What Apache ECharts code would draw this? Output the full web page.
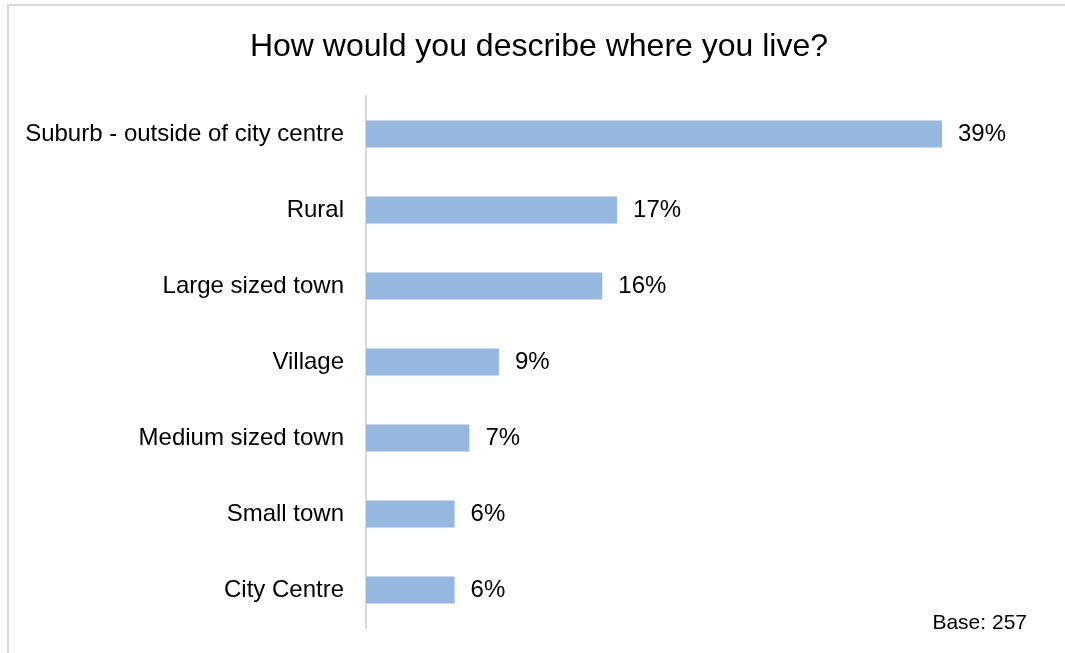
<!DOCTYPE html>
<html>
<head>
<meta charset="utf-8">
<script src="https://cdn.jsdelivr.net/npm/echarts@6/dist/echarts.min.js"></script>
<style>
  html, body { margin: 0; padding: 0; background: #fff; }
  #chart { width: 1065px; height: 653px; }
</style>
</head>
<body>
<div id="chart"></div>
<script>
// Where respondents live (share of base, %)
const categories = [
  'Suburb - outside of city centre',
  'Rural',
  'Large sized town',
  'Village',
  'Medium sized town',
  'Small town',
  'City Centre'
];
const shares = [39, 17, 16, 9, 7, 6, 6];
const titleText = 'How would you describe where you live?';
const baseText = 'Base: 257';

const FONT = '"Liberation Sans", Arial, sans-serif';

const chart = echarts.init(document.getElementById('chart'), null, { renderer: 'canvas' });

chart.setOption({
  backgroundColor: '#ffffff',
  animation: false,
  title: {
    text: titleText,
    left: 534,
    textAlign: 'center',
    top: 26,
    textStyle: { fontFamily: FONT, fontSize: 32, fontWeight: 'normal', color: '#000' }
  },
  graphic: [
    {
      type: 'rect',
      shape: { x: 8, y: 5, width: 1070, height: 660 },
      style: { fill: 'none', stroke: '#d9d9d9', lineWidth: 2 },
      silent: true
    },
    {
      type: 'text',
      right: 38,
      top: 613,
      style: { text: baseText, fontFamily: FONT, fontSize: 21, fill: '#000' }
    }
  ],
  grid: { left: 366, top: 96, width: 664.6, height: 532, containLabel: false },
  xAxis: {
    type: 'value',
    min: 0,
    max: 45,
    show: false
  },
  yAxis: {
    type: 'category',
    data: categories,
    inverse: true,
    axisLine: { show: true, lineStyle: { color: '#d9d9d9', width: 2 } },
    axisTick: { show: false },
    axisLabel: { margin: 22, fontFamily: FONT, fontSize: 24, color: '#000' }
  },
  series: [{
    type: 'bar',
    data: shares,
    barWidth: 27,
    itemStyle: { color: '#96b8df' },
    label: {
      show: true,
      position: 'right',
      distance: 16,
      formatter: p => p.value + '%',
      fontFamily: FONT,
      fontSize: 24,
      color: '#000'
    }
  }]
});
</script>
</body>
</html>
